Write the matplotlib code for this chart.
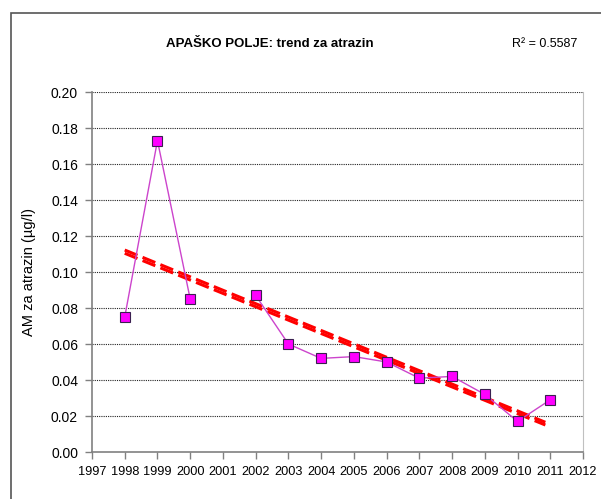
import numpy as np
import matplotlib.pyplot as plt
from matplotlib.patches import Rectangle

# ── Données ──────────────────────────────────────────────────────────────────
godine = [1998, 1999, 2000, 2001, 2002, 2003, 2004, 2005, 2006, 2007, 2008, 2009, 2010, 2011]
atrazin = [0.075, 0.173, 0.085, np.nan, 0.087, 0.060, 0.052, 0.053, 0.050, 0.041,
           0.042, 0.032, 0.017, 0.029]

# deux droites de tendance (extrémités)
trend_x = [1998, 2010.85]
trend_a = [0.1122, 0.0165]
trend_b = [0.1104, 0.0150]

x_ticks = list(range(1997, 2013))
y_ticks = [0.00, 0.02, 0.04, 0.06, 0.08, 0.10, 0.12, 0.14, 0.16, 0.18, 0.20]

naslov = "APAŠKO POLJE: trend za atrazin"
r2_tekst = "R² = 0.5587"
y_naziv = "AM za atrazin (µg/l)"

plt.rcParams['font.family'] = ['Liberation Sans', 'DejaVu Sans']

fig = plt.figure(figsize=(6.01, 4.99), dpi=100)
ax = fig.add_axes([92/601, 1 - 452/499, (583 - 92)/601, (452 - 92)/499])

# cadre extérieur
fig.patches.append(Rectangle((11/601, -0.2), 1.2, 1 - 13/499 + 0.2, transform=fig.transFigure,
                             fill=False, edgecolor='#555555', linewidth=1.2))

# grille
for v in y_ticks[1:]:
    ax.axhline(v, color='#222222', linestyle=(0, (1, 1)), linewidth=0.8, zorder=1)

# tendances
ax.plot(trend_x, trend_a, color='#FF0000', linewidth=2.2, dashes=(4.5, 1.8), zorder=2)
ax.plot(trend_x, trend_b, color='#FF0000', linewidth=2.2, dashes=(4.5, 1.8), zorder=2)

# série
ax.plot(godine, atrazin, color='#CC44CC', linewidth=1.0, marker='s', markersize=7.5,
        markerfacecolor='#FF00FF', markeredgecolor='#3A2050', markeredgewidth=0.8, zorder=3)

ax.set_xlim(1997, 2012)
ax.set_ylim(0, 0.20)
ax.set_xticks(x_ticks)
ax.set_xticklabels([str(t) for t in x_ticks])
ax.set_yticks(y_ticks)
ax.set_yticklabels([f"{t:.2f}" for t in y_ticks])
ax.tick_params(axis='both', colors='#000000', length=5, width=1, direction='out')
ax.tick_params(axis='x', labelsize=9.2, color='#808080', pad=5)
ax.tick_params(axis='y', labelsize=10, color='#808080', pad=5)

ax.spines['left'].set_color('#808080')
ax.spines['bottom'].set_color('#808080')
ax.spines['right'].set_color('#C0C0C0')
ax.spines['top'].set_visible(False)
for s in ['left', 'bottom']:
    ax.spines[s].set_linewidth(1.2)

ax.set_ylabel(y_naziv, fontsize=10.5)
ax.yaxis.set_label_coords(-(92 - 36)/491, 0.5)

fig.text(270/601, 1 - 44/499, naslov, ha='center', va='center', fontsize=9.5, fontweight='bold')
fig.text(545/601, 1 - 44/499, r2_tekst, ha='center', va='center', fontsize=9)

fig.savefig('out.png', dpi=100)
